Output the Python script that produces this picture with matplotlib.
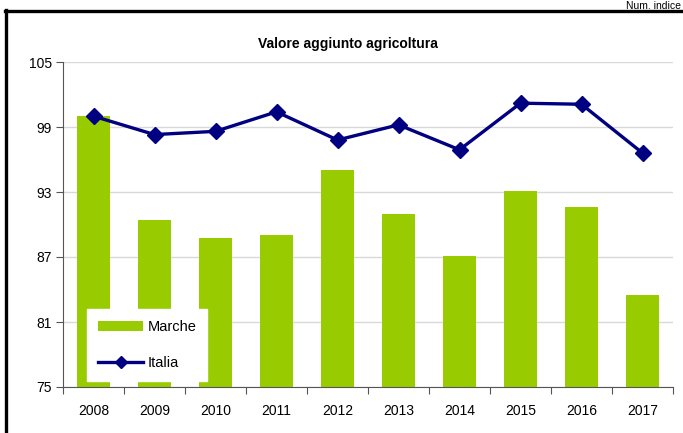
import matplotlib
matplotlib.use('Agg')
import matplotlib.pyplot as plt
from matplotlib.lines import Line2D
import numpy as np

plt.rcParams['font.family'] = ['Liberation Sans', 'DejaVu Sans']

years = ['2008', '2009', '2010', '2011', '2012', '2013', '2014', '2015', '2016', '2017']
marche = [100.0, 90.4, 88.8, 89.0, 95.0, 91.0, 87.1, 93.1, 91.6, 83.5]
italia = [100.0, 98.3, 98.6, 100.4, 97.8, 99.2, 96.9, 101.2, 101.1, 96.6]

fig = plt.figure(figsize=(6.83, 4.33), dpi=100)
ax = fig.add_axes([63/683, 1 - 387/433, 610/683, 325/433])

x = np.arange(len(years))
bars = ax.bar(x, marche, width=0.53, color='#99cc00', label='Marche', zorder=2)
line, = ax.plot(x, italia, color='#000080', lw=2.4, marker='D', ms=8, label='Italia', zorder=3)

ax.set_ylim(75, 105)
ax.set_yticks(np.arange(75, 106, 6))
ax.set_xlim(-0.5, len(years) - 0.5)
ax.set_xticks(np.arange(-0.5, len(years), 1))
ax.set_xticklabels([])
ax.set_xticks(x, minor=True)
ax.set_xticklabels(years, minor=True)
ax.tick_params(axis='x', which='minor', length=0, pad=12, labelsize=10)
ax.tick_params(axis='x', which='major', length=5, color='#555555')
ax.tick_params(axis='y', length=5, color='#555555', labelsize=10, pad=3)

ax.grid(axis='y', color='#d9d9d9', lw=1, zorder=0)
ax.set_axisbelow(True)
for s in ['top', 'right']:
    ax.spines[s].set_visible(False)
for s in ['left', 'bottom']:
    ax.spines[s].set_color('#555555')

leg = ax.legend([bars, line], ['Marche', 'Italia'], loc='lower left',
                bbox_to_anchor=(87/683, 1 - 381/433), bbox_transform=fig.transFigure,
                fontsize=10.5, handlelength=3.1, labelspacing=1.5, borderpad=0.75, handletextpad=0.3,
                borderaxespad=0, fancybox=False, framealpha=1, markerscale=0.8, handleheight=0.6)
leg.get_frame().set_edgecolor('white')
leg.get_frame().set_facecolor('white')

fig.text(348/683, 1 - 44/433, 'Valore aggiunto agricoltura', ha='center', va='center',
         fontsize=10, fontweight='bold')
fig.text(681/683, 1 - 1/433, 'Num. indice', ha='right', va='top', fontsize=7.5)

# outer frame (left and top edges only visible)
fig.add_artist(Line2D([6/683, 6/683], [0, 1 - 10/433], color='black', lw=2.4, transform=fig.transFigure))
fig.add_artist(Line2D([5/683, 1], [1 - 10.5/433, 1 - 10.5/433], color='black', lw=2.4, transform=fig.transFigure))

fig.savefig('out.png', dpi=100)
